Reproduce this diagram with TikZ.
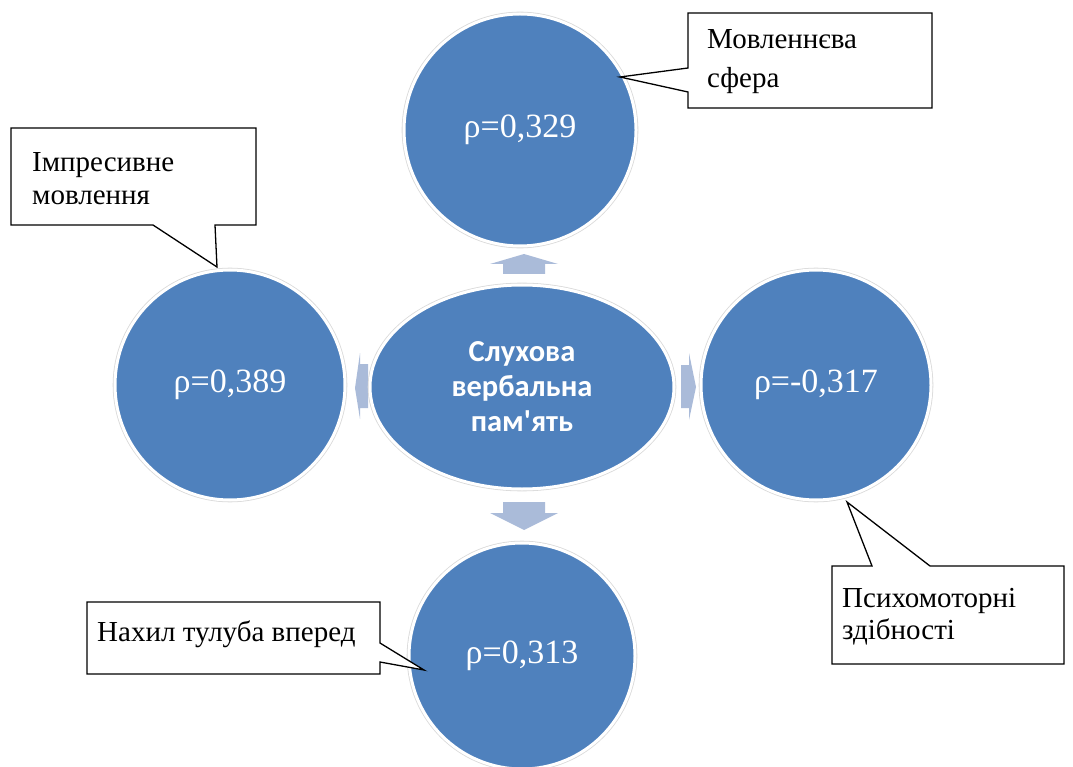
\documentclass[tikz,border=0pt]{standalone}
\usepackage{fontspec}
\setmainfont{Liberation Serif}
\newfontfamily\calibrifont{Carlito}
\usetikzlibrary{shapes.geometric}
\definecolor{blu}{RGB}{79,129,189}
\definecolor{arrcol}{RGB}{170,187,217}
\begin{document}
\begin{tikzpicture}[x=1pt,y=-1pt,
  bubble/.style={circle, fill=blu, draw=white, line width=3pt, inner sep=0pt,
    preaction={draw=black!15, line width=4.6pt},
    text=white, font=\fontsize{34}{36}\selectfont},
  hub/.style={ellipse, fill=blu, draw=white, line width=3pt, inner sep=0pt,
    preaction={draw=black!15, line width=4.6pt},
    minimum width=304pt, minimum height=204pt,
    text=white, align=center, font=\calibrifont\bfseries\fontsize{30.5}{35}\selectfont},
  blockarrow/.style={fill=arrcol, draw=none},
  callout/.style={draw=black, fill=white, line width=1.3pt, line join=miter},
  callouttext/.style={anchor=west, align=left, inner sep=0pt, text=black}
]
\useasboundingbox (0,0) rectangle (1073,767);

% block arrows
\fill[blockarrow] (503,274) -- (503,264) -- (490,264) -- (524,254) -- (558,264) -- (545,264) -- (545,274) -- cycle;
\fill[blockarrow] (503,502) -- (545,502) -- (545,513) -- (558,513) -- (524,530) -- (490,513) -- (503,513) -- cycle;
\fill[blockarrow] (368,364) -- (360,364) -- (360,353) -- (355,388) -- (360,419) -- (360,408) -- (368,408) -- cycle;
\fill[blockarrow] (681,365) -- (689,365) -- (689,353) -- (696,387) -- (689,420) -- (689,408) -- (681,408) -- cycle;

% circles
\node[hub] (hub) at (522,387) {Слухова\\вербальна\\пам'ять};
\node[bubble, minimum size=232pt] (top) at (520,130) {ρ=0,329};
\node[bubble, minimum size=230pt] (left) at (230,385) {ρ=0,389};
\node[bubble, minimum size=230pt] (right) at (816,385) {ρ=-0,317};
\node[bubble, minimum size=226pt] (bottom) at (522,656) {ρ=0,313};

% callout: top right
\coordinate (tA) at (688,13);
\coordinate (tB) at (932,108);
\coordinate (tTip) at (620,77);
\draw[callout] (tA) -- (tB |- tA) -- (tB) -- (tA |- tB) -- (688,92) -- (tTip) -- (688,68) -- cycle;
\node[callouttext, font=\fontsize{29}{39}\selectfont] (tText) at (707,62) {Мовленнєва\\сфера};

% callout: left
\coordinate (lA) at (11,128);
\coordinate (lB) at (256,225);
\coordinate (lTip) at (217,267);
\draw[callout] (lA) -- (lB |- lA) -- (lB) -- (215,225) -- (lTip) -- (153,225) -- (lA |- lB) -- cycle;
\node[callouttext, font=\fontsize{29}{33}\selectfont] (lText) at (32,179) {Імпресивне\\мовлення};

% callout: right
\coordinate (rA) at (832,566);
\coordinate (rB) at (1064,664);
\coordinate (rTip) at (847,502);
\draw[callout] (rA) -- (872,566) -- (rTip) -- (930,566) -- (rB |- rA) -- (rB) -- (rA |- rB) -- cycle;
\node[callouttext, font=\fontsize{29}{32}\selectfont] (rText) at (842,617) {Психомоторні\\здібності};

% callout: bottom left
\coordinate (bA) at (87,602);
\coordinate (bB) at (380,674);
\coordinate (bTip) at (424,670);
\draw[callout] (bA) -- (bB |- bA) -- (380,643) -- (bTip) -- (380,662) -- (bB) -- (bA |- bB) -- cycle;
\node[callouttext, font=\fontsize{29}{33}\selectfont] (bText) at (97,634) {Нахил тулуба вперед};
\end{tikzpicture}
\end{document}
